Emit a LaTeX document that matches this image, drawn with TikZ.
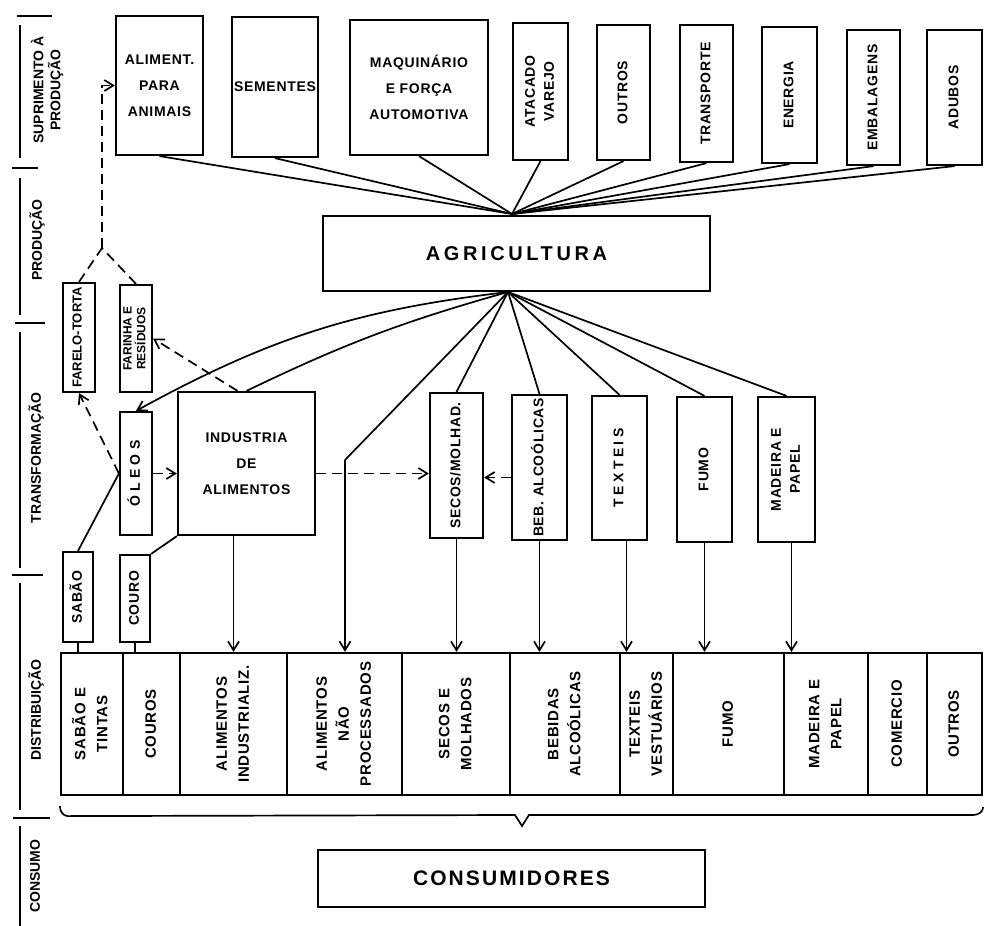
\documentclass[tikz,border=0pt]{standalone}
\usepackage{fontspec}
\setmainfont{Liberation Sans}
\usepackage{graphicx}
\usepackage{tikz}
\usetikzlibrary{arrows.meta,calc}

\newcommand\hlblfont{\fontsize{14}{26}\selectfont\bfseries\addfontfeature{LetterSpace=5}}
\newcommand\vlblfont{\fontsize{14}{19}\selectfont\bfseries\addfontfeature{LetterSpace=5}}
\newcommand\distfont{\fontsize{15}{22}\selectfont\bfseries\addfontfeature{LetterSpace=5}}
\newcommand\smallfnt{\fontsize{12}{11}\selectfont\bfseries}
\newcommand\sidefnt{\fontsize{14}{17}\selectfont\bfseries}
\newcommand\vlbl[1]{\rotatebox{90}{\begin{tabular}{@{}c@{}}#1\end{tabular}}}

\begin{document}
\begin{tikzpicture}[x=1pt, y=-1pt,
    box/.style={draw, line width=2.2pt, inner sep=1pt, align=center},
    hbox/.style={box, font=\hlblfont},
    vbox/.style={box, font=\vlblfont},
    dbox/.style={box, font=\distfont, minimum height=142pt},
    sidelbl/.style={rotate=90, align=center, font=\sidefnt},
    link/.style={line width=1.7pt},
    ptr/.style={link, -{Straight Barb[length=9pt,width=11pt]}},
    dptr/.style={ptr, dash pattern=on 10pt off 6pt},
    dlink/.style={link, dash pattern=on 10pt off 6pt}
]
    \useasboundingbox (0,0) rectangle (986,926);

    % side scale
    \foreach \y/\a/\b in {16/17/52, 168/12/38, 323/15/45, 575/12/43, 818/13/50}
        \draw[link] (\a,\y) -- (\b,\y);
    \foreach \a/\b in {25/158, 178/315, 332/568, 583/810, 826/926}
        \draw[link] (20,\a) -- (20,\b);
    \node[sidelbl] (lsup) at (47,90) {SUPRIMENTO À\\PRODUÇÃO};
    \node[sidelbl] (lprod) at (37,240) {PRODUÇÃO};
    \node[sidelbl] (ltransf) at (36,458) {TRANSFORMAÇÃO};
    \node[sidelbl] (ldistr) at (36,710) {DISTRIBUIÇÃO};
    \node[sidelbl] (lcons) at (35,876) {CONSUMO};

    % suprimento
    \node[hbox, minimum width=87pt, minimum height=139pt] (alim) at (159.5,85.5) {ALIMENT.\\PARA\\ANIMAIS};
    \node[hbox, minimum width=86pt, minimum height=140pt] (sem) at (275,87) {SEMENTES};
    \node[hbox, minimum width=138pt, minimum height=135pt] (maq) at (419,87.5) {MAQUINÁRIO\\E FORÇA\\AUTOMOTIVA};
    \node[vbox, minimum width=55pt, minimum height=137pt] (atac) at (540.5,91.5) {\vlbl{ATACADO\\VAREJO}};
    \node[vbox, minimum width=53pt, minimum height=135pt] (outr) at (623.5,92.5) {\vlbl{OUTROS}};
    \node[vbox, minimum width=53pt, minimum height=137pt] (transp) at (706.5,93.5) {\vlbl{TRANSPORTE}};
    \node[vbox, minimum width=55pt, minimum height=136pt] (energ) at (789.5,95) {\vlbl{ENERGIA}};
    \node[vbox, minimum width=53pt, minimum height=135pt] (embal) at (873.5,97.5) {\vlbl{EMBALAGENS}};
    \node[vbox, minimum width=55pt, minimum height=135pt] (adub) at (954.5,97.5) {\vlbl{ADUBOS}};

    % producao
    \node[box, minimum width=387pt, minimum height=75pt,
          font=\fontsize{20}{24}\selectfont\bfseries\addfontfeature{LetterSpace=18}] (agri) at (516.5,253.5) {AGRICULTURA};
    \coordinate (fantop) at (512,214);
    \coordinate (fanbot) at (508,292);
    \foreach \n in {alim,sem,maq,atac,outr,transp,energ,embal,adub}
        \draw[link] (\n.south) -- (fantop);

    % transformacao
    \node[box, font=\fontsize{13}{12}\selectfont\bfseries, minimum width=32pt, minimum height=109pt] (farelo) at (79,337.5) {\vlbl{FARELO-TORTA}};
    \node[box, font=\smallfnt, minimum width=32pt, minimum height=107pt] (farinha) at (136,338.5) {\vlbl{FARINHA E\\RESÍDUOS}};
    \node[vbox, minimum width=32pt, minimum height=123pt] (oleos) at (136,473.5) {\vlbl{\addfontfeature{LetterSpace=30}ÓLEOS}};
    \node[hbox, minimum width=137pt, minimum height=143pt] (ind) at (246.5,463.5) {INDUSTRIA\\DE\\ALIMENTOS};
    \node[vbox, minimum width=53pt, minimum height=145pt] (secos) at (456.5,465.5) {\vlbl{SECOS/MOLHAD.}};
    \node[vbox, minimum width=55pt, minimum height=145pt] (beb) at (539.5,467.5) {\vlbl{BEB. ALCOÓLICAS}};
    \node[vbox, minimum width=55pt, minimum height=144pt] (txt) at (619.5,468) {\vlbl{\addfontfeature{LetterSpace=25}TEXTEIS}};
    \node[vbox, minimum width=55pt, minimum height=145pt] (fumo) at (704.5,469.5) {\vlbl{FUMO}};
    \node[vbox, minimum width=57pt, minimum height=145pt] (mad) at (786.5,469.5) {\vlbl{MADEIRA E\\PAPEL}};
    \node[vbox, minimum width=30pt, minimum height=90pt] (sabao) at (78,597) {\vlbl{SABÃO}};
    \node[vbox, minimum width=30pt, minimum height=87pt] (couro) at (135,598.5) {\vlbl{COURO}};
    \coordinate (fork) at (102,248);
    \coordinate (knee) at (345,460);

    % distribuicao
    \node[dbox, minimum width=62pt] (d1) at (92,724) {\vlbl{SABÃO E\\TINTAS}};
    \node[dbox, minimum width=57pt] (d2) at (151.5,724) {\vlbl{COUROS}};
    \node[dbox, minimum width=107pt] (d3) at (233.5,724) {\vlbl{ALIMENTOS\\INDUSTRIALIZ.}};
    \node[dbox, minimum width=115pt] (d4) at (344.5,724) {\vlbl{ALIMENTOS\\NÃO\\PROCESSADOS}};
    \node[dbox, minimum width=108pt] (d5) at (456,724) {\vlbl{SECOS E\\MOLHADOS}};
    \node[dbox, minimum width=110pt] (d6) at (565,724) {\vlbl{BEBIDAS\\ALCOÓLICAS}};
    \node[dbox, minimum width=53pt] (d7) at (646.5,724) {\vlbl{TEXTEIS\\VESTUÁRIOS}};
    \node[dbox, minimum width=111pt] (d8) at (728.5,724) {\vlbl{FUMO}};
    \node[dbox, minimum width=84pt] (d9) at (826,724) {\vlbl{MADEIRA E\\PAPEL}};
    \node[dbox, minimum width=59pt] (d10) at (897.5,724) {\vlbl{COMERCIO}};
    \node[dbox, minimum width=55pt] (d11) at (954.5,724) {\vlbl{OUTROS}};

    % consumo
    \node[box, minimum width=387pt, minimum height=57pt,
          font=\fontsize{21}{24}\selectfont\bfseries\addfontfeature{LetterSpace=10}] (cons) at (511.5,878.5) {CONSUMIDORES};
    \draw[link] (d1.south west) ++(0,10) to[out=-90,in=180] ++(8,10) -- (515,815) -- (522,826)
        -- (529,815) -- (973,815) to[out=0,in=-90] ($(d11.south east)+(0,11)$);

    % agricultura -> transformacao
    \draw[ptr] (fanbot) to[bend right=11] (oleos.north);
    \draw[link] (fanbot) to[bend right=5] (ind.north);
    \draw[link] (fanbot) -- (knee);
    \foreach \n in {secos,beb,txt,fumo,mad}
        \draw[link] (fanbot) -- (\n.north);

    % subprodutos
    \draw[dlink] (farelo.north) -- (fork);
    \draw[dlink] (farinha.north) -- (fork);
    \draw[dptr] (fork) |- (alim.west);
    \draw[dptr] (oleos.west) -- (farelo.south);
    \draw[dptr] ([xshift=-9pt]ind.north) -- (farinha.east);
    \draw[dptr] (oleos.east) -- (oleos.east -| ind.west);
    \draw[link] (sabao.north) -- (oleos.west);
    \draw[link] (couro.north east) -- (ind.south west);
    \draw[dptr] ([yshift=-10pt]ind.east) -- ([yshift=-10pt]ind.east -| secos.west);
    \draw[dptr] ([yshift=-10pt]beb.west) -- ([yshift=-10pt]beb.west -| secos.east);

    % transformacao -> distribuicao
    \draw[link] (sabao.south) -- (sabao.south |- d1.north);
    \draw[link] (couro.south) -- (couro.south |- d2.north);
    \draw[ptr] (ind.south -| d3.north) -- (d3.north);
    \draw[ptr] (knee) -- (knee |- d4.north);
    \draw[ptr] (secos.south) -- (secos.south |- d5.north);
    \draw[ptr] (beb.south) -- (beb.south |- d6.north);
    \draw[ptr] ([xshift=7pt]txt.south) -- ([xshift=7pt]txt.south |- d7.north);
    \draw[ptr] (fumo.south) -- (fumo.south |- d8.north);
    \draw[ptr] ([xshift=5pt]mad.south) -- ([xshift=5pt]mad.south |- d9.north);
\end{tikzpicture}
\end{document}
